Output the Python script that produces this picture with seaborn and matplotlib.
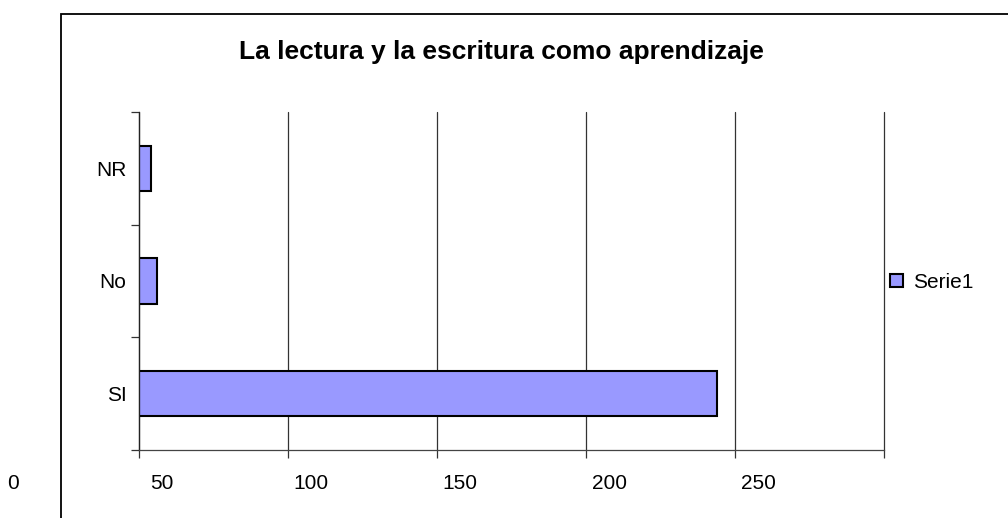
import matplotlib
matplotlib.use("Agg")
import matplotlib.pyplot as plt
import seaborn as sns
import pandas as pd
from matplotlib.patches import Rectangle

# data
categories = ["NR", "No", "SI"]
values = [4, 6, 194]
series_name = "Serie1"
grid_values = [0, 50, 100, 150, 200, 250]
tick_labels = ["0", "50", "100", "150", "200", "250"]
title = "La lectura y la escritura como aprendizaje"

df = pd.DataFrame({"cat": categories, "val": values})

sns.set_style("white", {"xtick.bottom": True, "ytick.left": True,
                        "text.color": "black", "axes.labelcolor": "black",
                        "xtick.color": "black", "ytick.color": "black"})
plt.rcParams["font.family"] = ["Liberation Sans", "DejaVu Sans"]

fig = plt.figure(figsize=(10.08, 5.18), dpi=100)
ax = fig.add_axes([139/1008, 68/518, 745/1008, 338/518])

sns.barplot(data=df, y="cat", x="val", order=categories, orient="h",
            color="#9999FF", saturation=1, width=0.4, edgecolor="black",
            linewidth=1.5, label=series_name, ax=ax)

ax.set_xlim(0, 250)
ax.set_ylim(2.5, -0.5)

# gridlines / ticks at category boundaries, Excel style
ax.set_xticks(grid_values)
ax.set_xticklabels([])
ax.set_yticks([-0.5, 0.5, 1.5, 2.5])
ax.set_yticklabels([])
ax.set_yticks(range(len(categories)), minor=True)
ax.set_yticklabels(categories, minor=True, fontsize=15)
ax.tick_params(axis="y", which="minor", length=0, pad=9, left=True)
ax.tick_params(axis="both", which="major", length=6, width=0.9, color="#333333",
               direction="out", bottom=True, left=True)
ax.xaxis.grid(True, color="#333333", linewidth=0.9)
for gl in ax.get_xgridlines():
    gl.set_clip_on(False)
ax.set_axisbelow(True)
for side in ["top", "right"]:
    ax.spines[side].set_visible(False)
ax.spines["left"].set_color("#222222")
ax.spines["bottom"].set_color("#444444")
ax.spines["left"].set_linewidth(0.9)
ax.spines["bottom"].set_linewidth(0.9)
ax.set_xlabel("")
ax.set_ylabel("")

# shifted x labels as in the original rendering
for v, lab in zip(grid_values, tick_labels):
    ax.text(v - 50 + 7.8, -0.098, lab, transform=ax.get_xaxis_transform(),
            ha="center", va="center", fontsize=15, color="black", clip_on=False)

fig.text(501/1008, 1 - 52/518, title, ha="center", va="center",
         fontsize=19, fontweight="bold", color="black")

leg = ax.legend(loc="center left", bbox_to_anchor=(882/1008, 1 - 282/518),
                bbox_transform=fig.transFigure, frameon=False, fontsize=15,
                handlelength=0.6, handleheight=0.6, handletextpad=0.5,
                borderaxespad=0)

# chart area border
fig.patches.append(Rectangle((61/1008, -0.1), 1.0, 1 - 14/518 + 0.1,
                             transform=fig.transFigure, fill=False,
                             edgecolor="black", linewidth=1.3))

fig.savefig("out.png", dpi=100)
